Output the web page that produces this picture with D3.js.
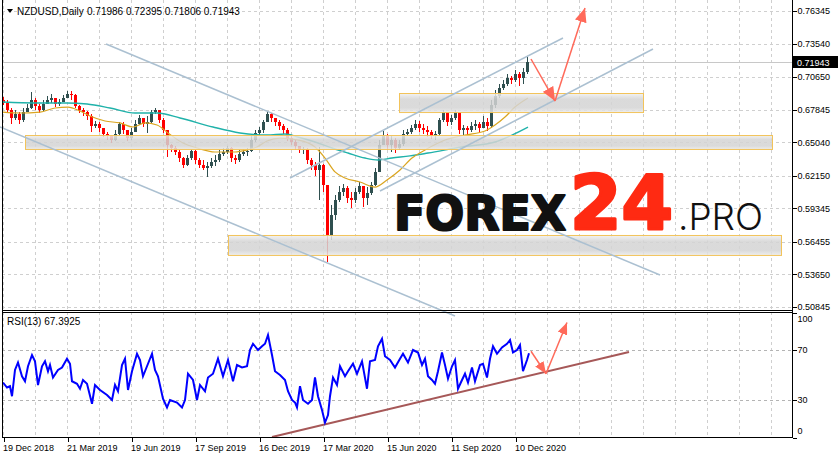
<!DOCTYPE html>
<html>
<head>
<meta charset="utf-8">
<script src="https://cdn.jsdelivr.net/npm/d3@7"></script>
<style>
	body { margin: 0; background: #fff; }
	svg { display: block; font-family: "Liberation Sans", Arial, sans-serif; }
	.grid line { stroke: #cfcfcf; stroke-dasharray: 3,3; shape-rendering: crispEdges; }
	.axis text { font-size: 9px; fill: #000; }
	.axis line { stroke: #000; shape-rendering: crispEdges; }
	.frame { stroke: #000; stroke-width: 1; shape-rendering: crispEdges; }
</style>
</head>
<body>
<svg id="chart" width="838" height="458"></svg>
<script>

// ---- chart data ----
var firstOpen = 0.6868;

// 4-day candles, day index 4*i
var closes = [0.6842,0.6782,0.6713,0.6747,0.6695,0.6764,0.6799,0.6868,0.6816,0.6782,
	0.6833,0.6868,0.6885,0.6833,0.6850,0.6885,0.6919,0.6911,0.6816,0.6782,
	0.6764,0.6730,0.6644,0.6661,0.6627,0.6575,0.6558,0.6523,0.6575,0.6661,
	0.6609,0.6540,0.6592,0.6661,0.6713,0.6661,0.6678,0.6764,0.6782,0.6695,
	0.6609,0.6480,0.6454,0.6420,0.6368,0.6308,0.6368,0.6429,0.6351,0.6308,
	0.6282,0.6299,0.6334,0.6351,0.6403,0.6420,0.6454,0.6368,0.6351,0.6403,
	0.6420,0.6425,0.6523,0.6584,0.6609,0.6678,0.6747,0.6713,0.6678,0.6644,
	0.6609,0.6540,0.6506,0.6472,0.6437,0.6445,0.6351,0.6308,0.6265,0.6308,
	0.6135,0.5705,0.5877,0.6006,0.6075,0.6110,0.6024,0.6006,0.6075,0.6127,
	0.6024,0.6067,0.6135,0.6248,0.6480,0.6558,0.6480,0.6523,0.6454,0.6489,
	0.6575,0.6592,0.6627,0.6661,0.6627,0.6609,0.6592,0.6558,0.6575,0.6695,
	0.6764,0.6678,0.6713,0.6764,0.6609,0.6627,0.6609,0.6644,0.6661,0.6627,
	0.6678,0.6644,0.6825,0.6902,0.6971,0.7006,0.7057,0.7040,0.7092,0.7057,
	0.7109,0.7194];

var highs = [0.6894,0.6868,0.6799,0.6782,0.6764,0.6799,0.6833,0.6937,0.6885,0.6833,
	0.6868,0.6902,0.6919,0.6885,0.6876,0.6911,0.6945,0.6945,0.6919,0.6825,
	0.6799,0.6773,0.6747,0.6687,0.6678,0.6627,0.6592,0.6566,0.6609,0.6678,
	0.6678,0.6609,0.6627,0.6695,0.6739,0.6713,0.6730,0.6782,0.6799,0.6782,
	0.6713,0.6609,0.6489,0.6472,0.6437,0.6377,0.6394,0.6446,0.6437,0.6368,
	0.6351,0.6334,0.6368,0.6394,0.6437,0.6454,0.6472,0.6463,0.6394,0.6437,
	0.6446,0.6454,0.6558,0.6609,0.6635,0.6695,0.6773,0.6756,0.6713,0.6695,
	0.6661,0.6627,0.6558,0.6523,0.6472,0.6463,0.6454,0.6368,0.6334,0.6463,
	0.6317,0.6135,0.5963,0.6049,0.6127,0.6144,0.6127,0.6075,0.6110,0.6161,
	0.6127,0.6118,0.6161,0.6282,0.6523,0.6601,0.6575,0.6558,0.6540,0.6523,
	0.6609,0.6618,0.6652,0.6695,0.6687,0.6661,0.6644,0.6609,0.6601,0.6713,
	0.6782,0.6764,0.6739,0.6782,0.6764,0.6652,0.6644,0.6678,0.6695,0.6678,
	0.6730,0.6713,0.6868,0.6954,0.7006,0.7040,0.7092,0.7075,0.7126,0.7109,
	0.7143,0.7240];

var lows = [0.6825,0.6764,0.6661,0.6695,0.6661,0.6678,0.6764,0.6790,0.6782,0.6756,
	0.6773,0.6833,0.6842,0.6807,0.6816,0.6850,0.6885,0.6868,0.6799,0.6756,
	0.6730,0.6695,0.6592,0.6627,0.6592,0.6549,0.6523,0.6497,0.6515,0.6566,
	0.6575,0.6515,0.6523,0.6592,0.6652,0.6635,0.6584,0.6661,0.6747,0.6670,
	0.6584,0.6377,0.6420,0.6394,0.6334,0.6282,0.6299,0.6351,0.6317,0.6282,
	0.6265,0.6204,0.6282,0.6299,0.6334,0.6386,0.6403,0.6334,0.6317,0.6334,
	0.6386,0.6386,0.6420,0.6506,0.6566,0.6584,0.6678,0.6678,0.6644,0.6609,
	0.6575,0.6515,0.6480,0.6437,0.6411,0.6403,0.6317,0.6265,0.6213,0.6006,
	0.6075,0.5472,0.5662,0.5834,0.5989,0.6041,0.5980,0.5938,0.5980,0.6058,
	0.5946,0.5963,0.6050,0.6127,0.6248,0.6480,0.6437,0.6420,0.6411,0.6437,
	0.6472,0.6558,0.6575,0.6609,0.6592,0.6575,0.6549,0.6532,0.6523,0.6558,
	0.6678,0.6644,0.6652,0.6695,0.6575,0.6558,0.6558,0.6592,0.6609,0.6592,
	0.6627,0.6601,0.6627,0.6799,0.6885,0.6954,0.6988,0.7006,0.7023,0.6988,
	0.7006,0.7092];

// moving averages (orange = fast, teal = slow)
var maFastDays = [0,17,37,52,65,77,87,102,117,130,142,154,165,180,194,212,232,244,254,264,
	277,295,312,322,332,342,357,372,384,397,409,422,442,462,482,492,502,512,525];
var maFastValues = [0.6764,0.6756,0.6764,0.6799,0.6807,0.6773,0.6730,0.6687,0.6670,0.6635,
	0.6670,0.6652,0.6584,0.6497,0.6454,0.6420,0.6420,0.6437,0.6463,0.6515,
	0.6540,0.6523,0.6463,0.6368,0.6248,0.6196,0.6161,0.6118,0.6179,0.6265,
	0.6368,0.6437,0.6523,0.6566,0.6601,0.6652,0.6721,0.6807,0.6885];
var maSlowDays = [0,32,64,84,107,132,154,177,210,237,264,282,295,312,329,345,362,375,389,407,
	425,459,492,509,525];
var maSlowValues = [0.6850,0.6842,0.6842,0.6833,0.6799,0.6756,0.6756,0.6713,0.6635,0.6584,
	0.6566,0.6575,0.6549,0.6506,0.6454,0.6411,0.6368,0.6351,0.6368,0.6386,
	0.6411,0.6463,0.6506,0.6566,0.6635];

// RSI(13)
var rsiDays = [0,4,7,9,12,15,19,22,25,29,32,35,39,42,45,47,50,55,59,64,
	67,69,74,77,80,84,89,92,97,104,109,112,115,119,122,125,129,134,137,140,
	145,149,152,155,160,164,167,174,179,182,185,190,194,197,202,205,210,215,220,225,
	230,234,239,244,247,250,255,259,262,265,269,272,277,282,285,289,292,294,297,300,
	305,309,312,315,319,322,325,327,330,334,337,342,345,350,354,359,364,367,372,375,
	379,382,387,392,397,400,405,410,415,419,422,425,429,432,435,439,442,445,449,452,
	455,459,462,465,469,472,477,480,484,487,490,494,499,504,507,510,514,517,520,524,526];
var rsiValues = [44,40,41,33,54,60,49,45,57,66,61,42,57,61,53,58,48,54,56,63,
	59,45,43,39,46,43,27,42,38,34,30,42,37,58,63,38,53,67,62,49,
	59,67,54,49,31,24,30,28,24,30,51,46,30,42,37,48,51,63,49,62,
	45,58,56,57,70,75,70,73,75,82,66,53,50,46,37,30,28,24,41,30,
	27,30,48,33,22,12,18,33,48,42,57,49,53,59,51,61,39,61,62,73,
	79,65,62,56,63,67,60,70,68,58,63,49,46,43,53,68,58,47,57,62,
	39,46,51,44,56,45,58,59,48,63,73,67,72,75,78,68,70,74,53,62,67.39];

// axes
var priceTicks = [0.76345,0.73540,0.70650,0.67845,0.65040,0.62150,0.59345,0.56455,0.53650,0.50845];
var rsiTicks = [100,70,30,0];
var rsiLevels = [70,30];
var dateDays = [0,64,128,192,256,320,384,448,512];
var dateLabels = ["19 Dec 2018","21 Mar 2019","19 Jun 2019","17 Sep 2019","16 Dec 2019",
	"17 Mar 2020","15 Jun 2020","11 Sep 2020","10 Dec 2020"];
var lastPrice = 0.71943;

// drawn objects (day, price)
var zoneDays = [[396,640],[22,769],[225,778]];
var zonePrices = [[0.6764,0.6928],[0.6446,0.6566],[0.5533,0.5705]];
var channelDays = [[103,657],[-3,452],[287,560],[377,650]];
var channelPrices = [[0.7350,0.5360],[0.6635,0.5007],[0.6196,0.7402],[0.6084,0.7307]];
var arrowDays = [528,552,582];
var arrowPrices = [0.7221,0.6859,0.7660];
var rsiArrowDays = [528,543,564];
var rsiArrowValues = [69,51,92];
var rsiTrendDays = [269,626];
var rsiTrendValues = [0.4,68.4];


// ---- drawing ----
var left = 2, right = 792, mainBottom = 310, rsiTop = 312, rsiBottom = 437;

var svg = d3.select("#chart");

var x = d3.scaleLinear().domain([0, 64]).range([3, 67]);
var y = d3.scaleLinear().domain([0.50845, 0.76345]).range([307, 11]);
var yRsi = d3.scaleLinear().domain([0, 100]).range([437.5, 312.5]);

function px(v) { return Math.round(v) + 0.5; }

// Zone gradient
var defs = svg.append("defs");
var grad = defs.append("linearGradient").attr("id", "zoneGrad")
	.attr("x1", 0).attr("y1", 0).attr("x2", 0).attr("y2", 1);
grad.append("stop").attr("offset", "0%").attr("stop-color", "#f0f0f0");
grad.append("stop").attr("offset", "30%").attr("stop-color", "#d4d4d4");
grad.append("stop").attr("offset", "75%").attr("stop-color", "#d4d4d4");
grad.append("stop").attr("offset", "100%").attr("stop-color", "#ebebeb");

function arrowMarker(id, len, wid) {
	defs.append("marker").attr("id", id)
		.attr("markerUnits", "userSpaceOnUse")
		.attr("markerWidth", len).attr("markerHeight", wid)
		.attr("refX", len).attr("refY", wid / 2)
		.attr("orient", "auto")
	  .append("path")
		.attr("d", "M0,0L" + len + "," + (wid / 2) + "L0," + wid + "Z")
		.attr("fill", "#ff6a5a");
}
arrowMarker("headBig", 14, 12);
arrowMarker("headSmall", 12, 10);

// Grid
var grid = svg.append("g").attr("class", "grid");
var vDays = d3.range(0, 769, 32);
grid.selectAll(".vmain").data(vDays).enter().append("line")
	.attr("x1", function(d) { return px(x(d)); }).attr("x2", function(d) { return px(x(d)); })
	.attr("y1", 0).attr("y2", mainBottom);
grid.selectAll(".vrsi").data(vDays).enter().append("line")
	.attr("x1", function(d) { return px(x(d)); }).attr("x2", function(d) { return px(x(d)); })
	.attr("y1", rsiTop).attr("y2", rsiBottom);
grid.selectAll(".hmain").data(priceTicks).enter().append("line")
	.attr("x1", left).attr("x2", right)
	.attr("y1", function(d) { return px(y(d)); }).attr("y2", function(d) { return px(y(d)); });
grid.selectAll(".hrsi").data(rsiLevels).enter().append("line")
	.style("stroke", "#b4b4b4")
	.attr("x1", left).attr("x2", right)
	.attr("y1", function(d) { return px(yRsi(d)); }).attr("y2", function(d) { return px(yRsi(d)); });

// Last price line
svg.append("line")
	.attr("x1", left).attr("x2", right)
	.attr("y1", px(y(lastPrice))).attr("y2", px(y(lastPrice)))
	.attr("stroke", "#c8c8c8").attr("shape-rendering", "crispEdges");

// Candles
var candles = closes.map(function(c, i) {
	var o = i === 0 ? firstOpen : closes[i - 1];
	return { day: i * 4, open: o, close: c,
		high: Math.max(highs[i], o, c), low: Math.min(lows[i], o, c) };
});
function candleColor(d) { return d.close >= d.open ? "#2f4f4f" : "#ff0000"; }

var cg = svg.append("g").attr("shape-rendering", "crispEdges");
cg.selectAll(".wick").data(candles).enter().append("line")
	.attr("x1", function(d) { return px(x(d.day)); })
	.attr("x2", function(d) { return px(x(d.day)); })
	.attr("y1", function(d) { return y(d.high); })
	.attr("y2", function(d) { return y(d.low); })
	.attr("stroke", candleColor);
cg.selectAll(".body").data(candles).enter().append("rect")
	.attr("x", function(d) { return Math.round(x(d.day)) - 1; })
	.attr("width", 3)
	.attr("y", function(d) { return y(Math.max(d.open, d.close)); })
	.attr("height", function(d) { return Math.max(1, Math.abs(y(d.open) - y(d.close))); })
	.attr("fill", candleColor);

// Moving averages
var maLine = d3.line()
	.x(function(d) { return x(d[0]); })
	.y(function(d) { return y(d[1]); })
	.curve(d3.curveMonotoneX);
svg.append("path")
	.datum(d3.zip(maSlowDays, maSlowValues))
	.attr("d", maLine).attr("fill", "none")
	.attr("stroke", "#20b2aa").attr("stroke-width", 1.4);
svg.append("path")
	.datum(d3.zip(maFastDays, maFastValues))
	.attr("d", maLine).attr("fill", "none")
	.attr("stroke", "#daa520").attr("stroke-width", 1.2);

// Support / resistance zones
svg.selectAll(".zone").data(d3.zip(zoneDays, zonePrices)).enter().append("rect")
	.attr("x", function(d) { return x(d[0][0]) + 0.5; })
	.attr("width", function(d) { return x(d[0][1]) - x(d[0][0]); })
	.attr("y", function(d) { return y(d[1][1]) + 0.5; })
	.attr("height", function(d) { return y(d[1][0]) - y(d[1][1]); })
	.attr("fill", "url(#zoneGrad)").attr("fill-opacity", 0.85)
	.attr("stroke", "#f2c35a").attr("stroke-width", 1);

// Channel lines
svg.selectAll(".channel").data(d3.zip(channelDays, channelPrices)).enter().append("line")
	.attr("x1", function(d) { return x(d[0][0]); })
	.attr("x2", function(d) { return x(d[0][1]); })
	.attr("y1", function(d) { return y(d[1][0]); })
	.attr("y2", function(d) { return y(d[1][1]); })
	.attr("stroke", "#abc0d1").attr("stroke-width", 1.5);

// Forecast arrows
var arrowPts = d3.zip(arrowDays, arrowPrices);
for (var i = 0; i < arrowPts.length - 1; i++) {
	svg.append("line")
		.attr("x1", x(arrowPts[i][0])).attr("y1", y(arrowPts[i][1]))
		.attr("x2", x(arrowPts[i + 1][0])).attr("y2", y(arrowPts[i + 1][1]))
		.attr("stroke", "#ff6a5a").attr("stroke-width", 1.5)
		.attr("marker-end", "url(#headBig)");
}

// RSI panel
svg.append("line")
	.attr("x1", x(rsiTrendDays[0])).attr("y1", yRsi(rsiTrendValues[0]))
	.attr("x2", x(rsiTrendDays[1])).attr("y2", yRsi(rsiTrendValues[1]))
	.attr("stroke", "#a65858").attr("stroke-width", 2);

var rsiLine = d3.line()
	.x(function(d) { return x(d[0]); })
	.y(function(d) { return yRsi(d[1]); });
svg.append("path")
	.datum(d3.zip(rsiDays, rsiValues))
	.attr("d", rsiLine).attr("fill", "none")
	.attr("stroke", "#0000ff").attr("stroke-width", 2);

var rsiPts = d3.zip(rsiArrowDays, rsiArrowValues);
for (var j = 0; j < rsiPts.length - 1; j++) {
	svg.append("line")
		.attr("x1", x(rsiPts[j][0])).attr("y1", yRsi(rsiPts[j][1]))
		.attr("x2", x(rsiPts[j + 1][0])).attr("y2", yRsi(rsiPts[j + 1][1]))
		.attr("stroke", "#ff6a5a").attr("stroke-width", 1.5)
		.attr("marker-end", "url(#headSmall)");
}

// Logo
var logo = svg.append("g");
logo.append("text").attr("x", 394).attr("y", 230)
	.attr("font-family", "'DejaVu Sans', sans-serif").attr("font-weight", 700)
	.attr("font-size", 48).attr("textLength", 172).attr("lengthAdjust", "spacingAndGlyphs")
	.attr("fill", "#111").attr("stroke", "#111").attr("stroke-width", 2.2)
	.attr("stroke-linejoin", "round").text("FOREX");
logo.append("text").attr("x", 570).attr("y", 229)
	.attr("font-family", "'DejaVu Sans', sans-serif").attr("font-weight", 700)
	.attr("font-size", 74).attr("textLength", 103).attr("lengthAdjust", "spacingAndGlyphs")
	.attr("fill", "#ff2a12").attr("stroke", "#ff2a12").attr("stroke-width", 3)
	.attr("stroke-linejoin", "round").text("24");
logo.append("text").attr("x", 678).attr("y", 230)
	.attr("font-family", "Inter, Roboto, sans-serif").attr("font-weight", 300)
	.attr("font-size", 37).attr("textLength", 85).attr("lengthAdjust", "spacingAndGlyphs")
	.attr("fill", "#111").text(".PRO");

// Frames
var frame = svg.append("g").attr("class", "frame");
frame.append("line").attr("x1", px(left)).attr("x2", px(left)).attr("y1", 0).attr("y2", rsiBottom + 1);
frame.append("line").attr("x1", px(right)).attr("x2", px(right)).attr("y1", 0).attr("y2", rsiBottom + 1);
frame.append("line").attr("x1", left).attr("x2", right + 1).attr("y1", px(mainBottom)).attr("y2", px(mainBottom));
frame.append("line").attr("x1", left).attr("x2", right + 1).attr("y1", px(rsiTop)).attr("y2", px(rsiTop));
frame.append("line").attr("x1", left).attr("x2", right + 1).attr("y1", px(rsiBottom)).attr("y2", px(rsiBottom));

// Price axis
var yAxis = d3.axisRight(y).tickValues(priceTicks).tickSize(4).tickPadding(1)
	.tickFormat(d3.format(".5f"));
svg.append("g").attr("class", "axis")
	.attr("transform", "translate(" + px(right) + ",0)")
	.call(yAxis)
	.call(function(g) { g.select(".domain").remove(); });

// Last price label
svg.append("rect")
	.attr("x", right + 1).attr("y", Math.round(y(lastPrice)) - 6)
	.attr("width", 838 - right).attr("height", 12).attr("fill", "#000");
svg.append("text")
	.attr("x", right + 5).attr("y", y(lastPrice) + 3.5)
	.attr("font-size", 9).attr("fill", "#fff").text(d3.format(".5f")(lastPrice));

// RSI axis
var rsiAxis = d3.axisRight(yRsi).tickValues(rsiTicks).tickSize(4).tickPadding(1);
svg.append("g").attr("class", "axis")
	.attr("transform", "translate(" + px(right) + ",0)")
	.call(rsiAxis)
	.call(function(g) {
		g.select(".domain").remove();
		g.selectAll(".tick text")
			.attr("dy", function(d) { return d === 100 ? "1.05em" : (d === 0 ? "-0.4em" : "0.32em"); });
	});

// Date axis
var xAxis = d3.axisBottom(x).tickValues(dateDays).tickSize(4).tickPadding(3)
	.tickFormat(function(d, i) { return dateLabels[i]; });
svg.append("g").attr("class", "axis")
	.attr("transform", "translate(0.5," + px(rsiBottom) + ")")
	.call(xAxis)
	.call(function(g) {
		g.select(".domain").remove();
		g.selectAll(".tick text").attr("text-anchor", "start").attr("x", -1);
	});

// Titles
svg.append("path").attr("d", "M7,9L13,9L10,13Z").attr("fill", "#000");
svg.append("text").attr("x", 17).attr("y", 15).attr("font-size", 10).text("NZDUSD,Daily");
svg.append("text").attr("x", 87).attr("y", 15).attr("font-size", 10)
	.text("0.71986 0.72395 0.71806 0.71943");
svg.append("text").attr("x", 7).attr("y", 325).attr("font-size", 10).text("RSI(13) 67.3925");

</script>
</body>
</html>
